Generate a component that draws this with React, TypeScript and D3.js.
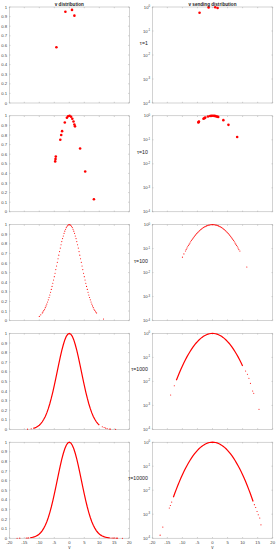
import * as d3 from 'd3';
import { useRef, useEffect } from 'react';

// LAYOUT (pixels)
const W = 277;
const H = 550;
const COLS = [
  { X0: 9.3, X1: 129.3 },
  { X0: 152.3, X1: 272.7 },
];
const ROW_TOP = 7;
const ROW_PITCH = 108.8;
const ROW_H = 96;
const RED = '#ff0000';
const AXIS = '#a6a6a6';
const TEXT = '#404040';
const FONT = '"Liberation Sans", Arial, sans-serif';

// AXES
const TITLES = ['v distribution', 'v sending distribution'];
const TAU_LABELS = ['τ=1', 'τ=10', 'τ=100', 'τ=1000', 'τ=10000'];
const X_TICKS = [-20, -15, -10, -5, 0, 5, 10, 15, 20];
const LIN_TICKS = [0, 0.1, 0.2, 0.3, 0.4, 0.5, 0.6, 0.7, 0.8, 0.9, 1];
const LOG_EXPONENTS = [0, -1, -2, -3, -4];

// DATA  [v, probability]
const tau1 = [
  [-4.3, 0.58], [-1.3, 0.95], [0.9, 0.97], [1.7, 0.91],
];

const tau10 = [
  [-4.7, 0.525], [-4.6, 0.55], [-4.5, 0.575], [-3.0, 0.75], [-2.7, 0.8],
  [-2.4, 0.84], [-1.5, 0.93], [-0.8, 0.98], [-0.4, 0.995], [0.1, 1.0],
  [0.6, 0.99], [1.0, 0.97], [1.4, 0.94], [1.7, 0.91], [1.9, 0.89],
  [3.6, 0.66], [5.3, 0.42], [8.2, 0.13],
];

const tau100 = [
  [-10, 0.044], [-9.5, 0.06], [-9, 0.08], [-8.75, 0.091], [-8.5, 0.105],
  [-8.25, 0.119], [-8, 0.135], [-7.75, 0.153], [-7.5, 0.172], [-7.25, 0.193],
  [-7, 0.216], [-6.75, 0.241], [-6.5, 0.267], [-6.25, 0.295], [-6, 0.325],
  [-5.75, 0.356], [-5.5, 0.389], [-5.25, 0.423], [-5, 0.458], [-4.75, 0.494],
  [-4.5, 0.531], [-4.25, 0.569], [-4, 0.607], [-3.75, 0.644], [-3.5, 0.682],
  [-3.25, 0.719], [-3, 0.755], [-2.75, 0.79], [-2.5, 0.823], [-2.25, 0.854],
  [-2, 0.882], [-1.75, 0.909], [-1.5, 0.932], [-1.25, 0.952], [-1, 0.969],
  [-0.75, 0.983], [-0.5, 0.992], [-0.25, 0.998], [0, 1], [0.25, 0.998],
  [0.5, 0.992], [0.75, 0.983], [1, 0.969], [1.25, 0.952], [1.5, 0.932],
  [1.75, 0.909], [2, 0.882], [2.25, 0.854], [2.5, 0.823], [2.75, 0.79],
  [3, 0.755], [3.25, 0.719], [3.5, 0.682], [3.75, 0.644], [4, 0.607],
  [4.25, 0.569], [4.5, 0.531], [4.75, 0.494], [5, 0.458], [5.25, 0.423],
  [5.5, 0.389], [5.75, 0.356], [6, 0.325], [6.25, 0.295], [6.5, 0.267],
  [6.75, 0.241], [7, 0.216], [7.25, 0.193], [7.5, 0.172], [7.75, 0.153],
  [8, 0.135], [8.25, 0.119], [8.5, 0.105], [8.75, 0.091], [9.1, 0.08],
  [11.4, 0.017],
];

const tau1000Main = [
  [-12, 0.0111], [-11.5, 0.016], [-11, 0.0228], [-10.5, 0.0319], [-10, 0.0439],
  [-9.5, 0.0596], [-9, 0.0796], [-8.5, 0.105], [-8, 0.135], [-7.5, 0.172],
  [-7, 0.216], [-6.5, 0.267], [-6, 0.325], [-5.5, 0.389], [-5, 0.458],
  [-4.5, 0.531], [-4, 0.607], [-3.5, 0.682], [-3, 0.755], [-2.5, 0.823],
  [-2, 0.882], [-1.5, 0.932], [-1, 0.969], [-0.5, 0.992], [0, 1],
  [0.5, 0.992], [1, 0.969], [1.5, 0.932], [2, 0.882], [2.5, 0.823],
  [3, 0.755], [3.5, 0.682], [4, 0.607], [4.5, 0.531], [5, 0.458],
  [5.5, 0.389], [6, 0.325], [6.5, 0.267], [7, 0.216], [7.5, 0.172],
  [8, 0.135], [8.5, 0.105], [9, 0.0796], [9.5, 0.0596], [10, 0.0439],
];
const tau1000Tail = [
  [-13.9, 0.0027], [-12.7, 0.0066], [11.0, 0.027], [11.6, 0.02], [12.1, 0.0135],
  [12.6, 0.0083], [13.35, 0.004], [13.7, 0.0032], [15.45, 0.00069],
];

const tau10000Main = [
  [-13, 0.0051], [-12.5, 0.0076], [-12, 0.0111], [-11.5, 0.016], [-11, 0.0228],
  [-10.5, 0.0319], [-10, 0.0439], [-9.5, 0.0596], [-9, 0.0796], [-8.5, 0.105],
  [-8, 0.135], [-7.5, 0.172], [-7, 0.216], [-6.5, 0.267], [-6, 0.325],
  [-5.5, 0.389], [-5, 0.458], [-4.5, 0.531], [-4, 0.607], [-3.5, 0.682],
  [-3, 0.755], [-2.5, 0.823], [-2, 0.882], [-1.5, 0.932], [-1, 0.969],
  [-0.5, 0.992], [0, 1], [0.5, 0.992], [1, 0.969], [1.5, 0.932],
  [2, 0.882], [2.5, 0.823], [3, 0.755], [3.5, 0.682], [4, 0.607],
  [4.5, 0.531], [5, 0.458], [5.5, 0.389], [6, 0.325], [6.5, 0.267],
  [7, 0.216], [7.5, 0.172], [8, 0.135], [8.5, 0.105], [9, 0.0796],
  [9.5, 0.0596], [10, 0.0439], [10.5, 0.0319], [11, 0.0228], [11.5, 0.016],
  [12, 0.0111], [12.5, 0.0076], [13, 0.0051], [13.5, 0.0034],
];
const tau10000Tail = [
  [-17.4, 0.000134], [-16.5, 0.00029], [-14.35, 0.0018], [-14.0, 0.0023],
  [-13.55, 0.0032], [13.9, 0.0025], [14.35, 0.0019], [14.8, 0.0013],
  [15.2, 0.00095], [15.7, 0.00069], [16.1, 0.00036], [17.7, 0.00005],
];

// one entry per row: what to draw as a line, what as markers
const ROWS = [
  { line: [], dots: tau1, r: 1.3 },
  { line: [], dots: tau10, r: 1.3 },
  { line: [], dots: tau100, r: 0.55 },
  { line: tau1000Main, dots: tau1000Tail, r: 0.55 },
  { line: tau10000Main, dots: tau10000Tail, r: 0.55 },
];

export default function App() {
  const svgRef = useRef(null);

  useEffect(() => {
    const svg = d3.select(svgRef.current);
    svg.selectAll('*').remove();

    ROWS.forEach((rowData, row) => {
      const top = ROW_TOP + row * ROW_PITCH;
      const bottom = top + ROW_H;
      const lastRow = row === ROWS.length - 1;

      COLS.forEach((c, col) => {
        const x = d3.scaleLinear().domain([-20, 20]).range([c.X0, c.X1]);
        const y =
          col === 0
            ? d3.scaleLinear().domain([0, 1]).range([bottom, top])
            : d3.scaleLog().domain([1e-4, 1]).range([bottom, top]);
        const inside = (d) =>
          d[0] >= -20 && d[0] <= 20 && (col === 0 || d[1] >= 1e-4);

        const g = svg.append('g');

        g.append('rect')
          .attr('x', c.X0)
          .attr('y', top)
          .attr('width', c.X1 - c.X0)
          .attr('height', ROW_H)
          .attr('fill', '#fff')
          .attr('stroke', AXIS)
          .attr('stroke-width', 0.5);

        // x ticks, inside, top and bottom
        X_TICKS.forEach((t) => {
          g.append('line')
            .attr('x1', x(t)).attr('x2', x(t))
            .attr('y1', bottom).attr('y2', bottom - 1.2)
            .attr('stroke', AXIS).attr('stroke-width', 0.5);
          g.append('line')
            .attr('x1', x(t)).attr('x2', x(t))
            .attr('y1', top).attr('y2', top + 1.2)
            .attr('stroke', AXIS).attr('stroke-width', 0.5);
          if (lastRow) {
            g.append('text')
              .attr('x', x(t))
              .attr('y', bottom + 5.6)
              .attr('text-anchor', 'middle')
              .attr('font-size', 4.2)
              .attr('font-family', FONT)
              .attr('fill', TEXT)
              .text(t);
          }
        });

        // y ticks and labels
        const yTicks = col === 0 ? LIN_TICKS : LOG_EXPONENTS.map((e) => 10 ** e);
        yTicks.forEach((t, i) => {
          g.append('line')
            .attr('x1', c.X0).attr('x2', c.X0 + 1.2)
            .attr('y1', y(t)).attr('y2', y(t))
            .attr('stroke', AXIS).attr('stroke-width', 0.5);
          g.append('line')
            .attr('x1', c.X1).attr('x2', c.X1 - 1.2)
            .attr('y1', y(t)).attr('y2', y(t))
            .attr('stroke', AXIS).attr('stroke-width', 0.5);
          const label = g
            .append('text')
            .attr('x', c.X0 - 2.2)
            .attr('y', y(t) + 1.5)
            .attr('text-anchor', 'end')
            .attr('font-size', 4.2)
            .attr('font-family', FONT)
            .attr('fill', TEXT);
          if (col === 0) {
            label.text(String(t));
          } else {
            label.append('tspan').text('10');
            label
              .append('tspan')
              .attr('dy', -1.6)
              .attr('font-size', 2.8)
              .text(String(LOG_EXPONENTS[i]));
          }
        });

        // data
        if (rowData.line.length) {
          const line = d3
            .line()
            .x((d) => x(d[0]))
            .y((d) => y(d[1]));
          g.append('path')
            .attr('d', line(rowData.line.filter(inside)))
            .attr('fill', 'none')
            .attr('stroke', RED)
            .attr('stroke-width', 1.2);
        }
        g.selectAll('circle')
          .data(rowData.dots.filter(inside))
          .join('circle')
          .attr('cx', (d) => x(d[0]))
          .attr('cy', (d) => y(d[1]))
          .attr('r', rowData.r)
          .attr('fill', RED);

        if (row === 0) {
          g.append('text')
            .attr('x', (c.X0 + c.X1) / 2)
            .attr('y', top - 1.4)
            .attr('text-anchor', 'middle')
            .attr('font-size', 4.6)
            .attr('font-weight', 'bold')
            .attr('font-family', FONT)
            .attr('fill', '#222')
            .text(TITLES[col]);
        }
        if (lastRow) {
          g.append('text')
            .attr('x', (c.X0 + c.X1) / 2)
            .attr('y', bottom + 11)
            .attr('text-anchor', 'middle')
            .attr('font-size', 4.6)
            .attr('font-family', FONT)
            .attr('fill', TEXT)
            .text('v');
        }
      });

      svg
        .append('text')
        .attr('x', 147.8)
        .attr('y', top + 38)
        .attr('text-anchor', 'end')
        .attr('font-size', 5.2)
        .attr('font-family', FONT)
        .attr('fill', '#222')
        .text(TAU_LABELS[row]);
    });
  }, []);

  return (
    <svg
      ref={svgRef}
      width={W}
      height={H}
      style={{ position: 'absolute', left: 0, top: 0, background: '#fff' }}
    />
  );
}
